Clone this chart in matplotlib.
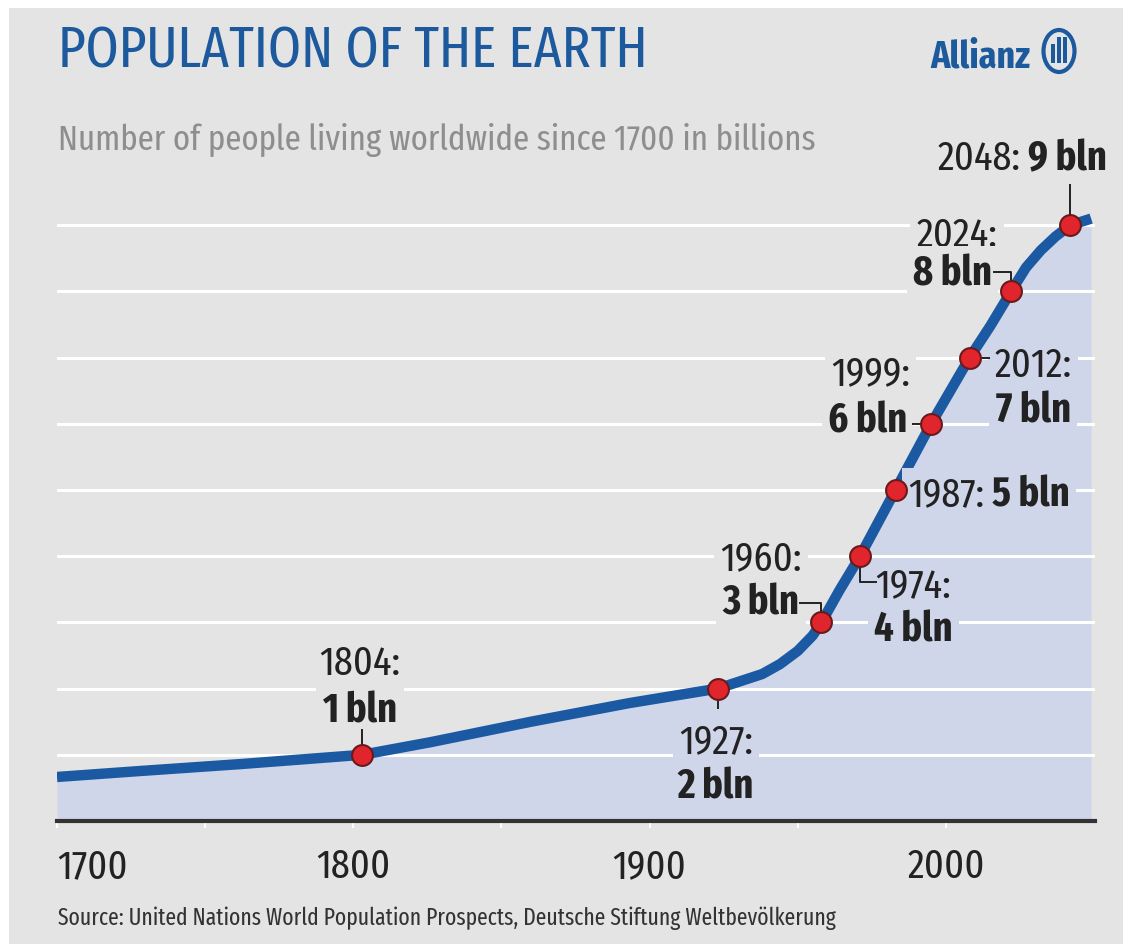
import matplotlib
matplotlib.use("Agg")
import matplotlib.pyplot as plt
from matplotlib import font_manager
from matplotlib.patches import Ellipse, Rectangle

# curve (year, billions)
years = [1700, 1728, 1762, 1803, 1826, 1860, 1893, 1923, 1938, 1944, 1950,
         1955, 1958, 1964, 1971, 1983, 1995, 2008, 2015, 2022, 2027, 2032, 2037, 2042, 2049]
population = [0.665, 0.755, 0.86, 1.0, 1.19, 1.50, 1.78, 2.0, 2.22, 2.37, 2.57,
              2.80, 3.0, 3.48, 4.0, 5.0, 6.0, 7.0, 7.48, 8.0, 8.36, 8.62, 8.83, 9.0, 9.1]

# milestone dots (as drawn) and their labels
dot_years = [1803, 1923, 1958, 1971, 1983, 1995, 2008, 2022, 2042]
dot_pop = [1, 2, 3, 4, 5, 6, 7, 8, 9]
year_labels = ["1804:", "1927:", "1960:", "1974:", "1987:", "1999:", "2012:", "2024:", "2048:"]
value_labels = ["1 bln", "2 bln", "3 bln", "4 bln", "5 bln", "6 bln", "7 bln", "8 bln", "9 bln"]

tick_years = [1700, 1800, 1900, 2000]
tick_labels = ["1700", "1800", "1900", "2000"]
minor_years = [1750, 1850, 1950]

title = "POPULATION OF THE EARTH"
subtitle = "Number of people living worldwide since 1700 in billions"
source = "Source: United Nations World Population Prospects, Deutsche Stiftung Weltbevölkerung"

BG = "#e4e4e5"
FILL = "#d0d6ea"
LINE = "#1b5aa3"
DOT = "#e0252c"
BLUE = "#1c5a9d"
INK = "#222222"

names = {f.name for f in font_manager.fontManager.ttflist}
prefer = ["Fira Sans Extra Condensed", "Fira Sans Condensed", "PT Sans Narrow",
          "Roboto Condensed", "Liberation Sans Narrow"]
fams = [n for n in prefer if n in names][:1] + ["DejaVu Sans"]
plt.rcParams["font.family"] = fams

W, H = 1123, 945
PX_PER_YEAR = 1038 / 350.3
fig = plt.figure(figsize=(W / 100, H / 100), dpi=100, facecolor="white")
fig.patches.append(Rectangle((9 / W, 0), 1 - 9 / W, 1 - 9 / H, transform=fig.transFigure,
                             facecolor=BG, edgecolor="none", zorder=-10))

ax = fig.add_axes([57 / W, (H - 822) / H, 1038 / W, 662 / H])
ax.set_facecolor("none")
ax.set_xlim(1700, 2050.3)
ax.set_ylim(0, 10)

ax.fill_between(years, population, 0, color=FILL, lw=0, zorder=1)
for g in range(1, 10):
    ax.axhline(g, color="white", lw=2.2, zorder=2)
ax.plot(years, population, color=LINE, lw=7.5, solid_capstyle="butt",
        solid_joinstyle="round", zorder=4)
ax.plot(dot_years, dot_pop, "o", ms=15, mfc=DOT, mec="#6a1a1a", mew=1.5, zorder=7)

fig.canvas.draw()
renderer = fig.canvas.get_renderer()


def fit(t, width_px):
    w = t.get_window_extent(renderer).width
    t.set_fontsize(t.get_fontsize() * width_px / w)
    return t.get_fontsize()


# label size taken from the width of "1804:" in the reference
probe = fig.text(0, 0, "1804:", fontsize=30)
FS = fit(probe, 81)
probe.remove()

for s in ["top", "right", "left"]:
    ax.spines[s].set_visible(False)
ax.spines["bottom"].set_color("#333333")
ax.spines["bottom"].set_linewidth(3)
ax.set_yticks([])
ax.set_xticks(tick_years)
ax.set_xticklabels(tick_labels)
ax.set_xticks(minor_years, minor=True)
ax.tick_params(axis="x", which="both", direction="out", length=5, width=1.5,
               color="white", labelsize=FS, labelcolor=INK, pad=13)
ax.get_xticklabels()[0].set_horizontalalignment("left")

# label layout: (year text pos, value text pos, alignment, box colour, leader path)
layout = [
    ((1802.2, 2.22), (1802.2, 1.51), "center", BG, [(1803, 1.39), (1803, 1.0)]),
    ((1922.4, 1.04), (1922.4, 0.36), "center", FILL, [(1923, 1.69), (1923, 2.0)]),
    ((1937.6, 3.81), (1937.6, 3.13), "center", BG, [(1950.4, 3.29), (1958, 3.29), (1958, 3.0)]),
    ((1989.0, 3.40), (1989.0, 2.72), "center", FILL, [(1971, 4.0), (1971, 3.61), (1976.6, 3.61)]),
    (None, None, "inline", FILL, [(1983, 5.0), (1987.0, 5.0)]),
    ((1987.9, 6.60), (1986.9, 5.89), "right", BG, [(1988.6, 6.0), (1995, 6.0)]),
    ((2029.4, 6.72), (2029.4, 6.04), "center", FILL, [(2008, 7.0), (2015.0, 7.0)]),
    ((2003.7, 8.69), (2015.5, 8.11), "mixed", BG, [(2016.0, 8.29), (2022, 8.29), (2022, 8.0)]),
    (None, None, "inline", BG, [(2042, 9.62), (2042, 9.0)]),
]
inline_pos = {4: (1987.4, 4.77), 8: (2054.3, 9.85)}

for i, (ypos, vpos, align, box, path) in enumerate(layout):
    xs, ys = zip(*path)
    ax.plot(xs, ys, color=INK, lw=1.4, zorder=6, solid_capstyle="butt")
    bb = dict(boxstyle="square,pad=0.15", fc=box, ec="none")
    if align == "inline":
        x0, y0 = inline_pos[i]
        if i == 4:
            t1 = ax.text(x0, y0, year_labels[i], fontsize=FS, color=INK, ha="left",
                         va="baseline", zorder=5, bbox=bb)
            w = t1.get_window_extent(renderer).width + 0.25 * FS
            ax.text(x0 + w / PX_PER_YEAR, y0, value_labels[i], fontsize=FS, weight="bold",
                    color=INK, ha="left", va="baseline", zorder=5.5, bbox=bb)
        else:
            t2 = ax.text(x0, y0, value_labels[i], fontsize=FS, weight="bold", color=INK,
                         ha="right", va="baseline", zorder=5.5, bbox=bb, clip_on=False)
            w = t2.get_window_extent(renderer).width + 0.25 * FS
            ax.text(x0 - w / PX_PER_YEAR, y0, year_labels[i], fontsize=FS, color=INK,
                    ha="right", va="baseline", zorder=5, bbox=bb, clip_on=False)
        continue
    if align == "mixed":
        ha1, ha2 = "center", "right"
    else:
        ha1 = ha2 = align
    ax.text(ypos[0], ypos[1], year_labels[i], fontsize=FS, color=INK, ha=ha1,
            va="baseline", zorder=5, bbox=bb, clip_on=False)
    ax.text(vpos[0], vpos[1], value_labels[i], fontsize=FS, weight="bold", color=INK,
            ha=ha2, va="baseline", zorder=5.5, bbox=bb, clip_on=False)

t = fig.text(58 / W, 1 - 68 / H, title, fontsize=44, color=BLUE, va="baseline")
fit(t, 590)
t = fig.text(58 / W, 1 - 150 / H, subtitle, fontsize=26, color="#8e8e8e", va="baseline")
fit(t, 757)
t = fig.text(58 / W, 1 - 925 / H, source, fontsize=18, color="#333333", va="baseline")
fit(t, 780)

# Allianz mark
t = fig.text(930 / W, 1 - 67 / H, "Allianz", fontsize=28, weight="bold", color=BLUE,
             va="baseline")
fit(t, 100)
fig.patches.append(Ellipse((1059 / W, 1 - 52 / H), 31 / W, 42 / H, transform=fig.transFigure,
                           facecolor="none", edgecolor=BLUE, lw=3))
for bx, top, bot in [(1051, 45, 64), (1057, 38, 64), (1063, 38, 64)]:
    fig.patches.append(Rectangle((bx / W, 1 - bot / H), 4 / W, (bot - top) / H,
                                 transform=fig.transFigure, facecolor=BLUE, edgecolor="none"))

fig.savefig("out.png", dpi=100, facecolor="white")
